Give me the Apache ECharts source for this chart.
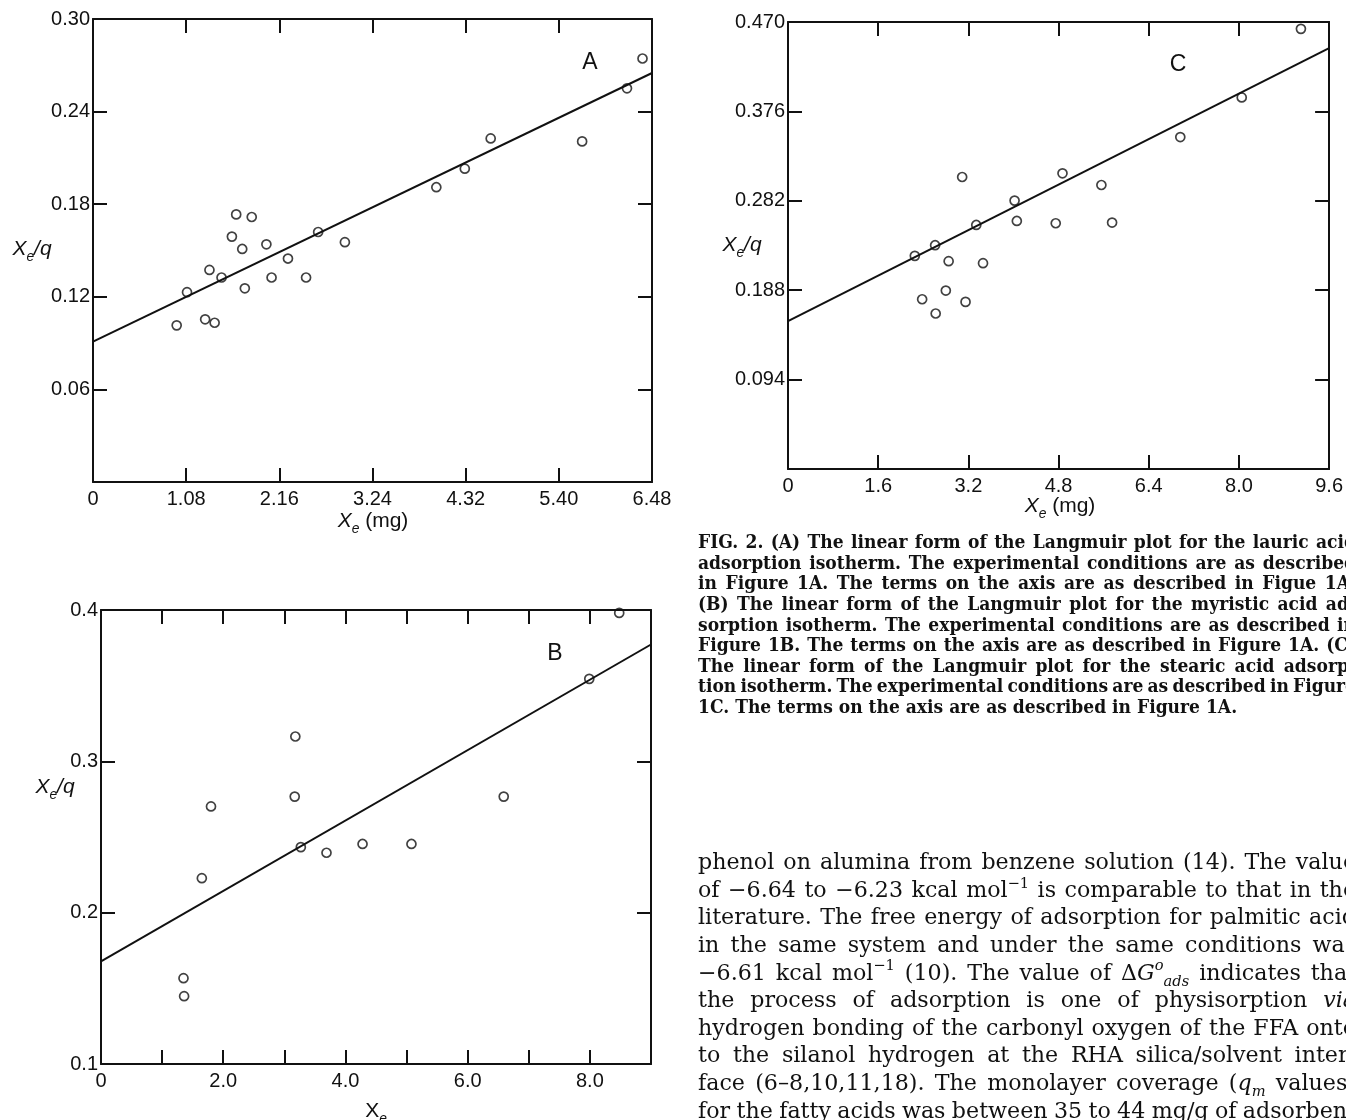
<!DOCTYPE html>
<html><head><meta charset="utf-8">
<script src="https://cdn.jsdelivr.net/npm/echarts/dist/echarts.min.js"></script>
<style>html,body{margin:0;padding:0;background:#fff}#c{width:1346px;height:1120px}</style>
</head><body><div id="c"></div>
<script>
// ---------------- DATA ----------------
const xTicksA=[0,1.08,2.16,3.24,4.32,5.40,6.48];
const xLabelsA=['0','1.08','2.16','3.24','4.32','5.40','6.48'];
const yTicksA=[0,0.06,0.12,0.18,0.24,0.30];
const yLabelsA=['','0.06','0.12','0.18','0.24','0.30'];
const pointsA=[[0.97,0.1015],[1.09,0.123],[1.30,0.1054],[1.41,0.1032],[1.35,0.1374],[1.49,0.1325],[1.61,0.159],[1.66,0.1734],[1.73,0.151],[1.76,0.1255],[1.84,0.1717],[2.01,0.154],[2.07,0.1325],[2.26,0.1448],[2.47,0.1325],[2.61,0.162],[2.92,0.1554],[3.98,0.191],[4.31,0.203],[4.61,0.2226],[5.67,0.2207],[6.19,0.2551],[6.37,0.2744]];
const fitA=[[0,0.091],[6.48,0.265]];

const xTicksB=[0,1,2,3,4,5,6,7,8,9];
const xLabelsB=['0','','2.0','','4.0','','6.0','','8.0',''];
const yTicksB=[0.1,0.2,0.3,0.4];
const yLabelsB=['0.1','0.2','0.3','0.4'];
const pointsB=[[1.35,0.1567],[1.36,0.1448],[1.65,0.2228],[1.80,0.2702],[3.18,0.3164],[3.17,0.2767],[3.27,0.2433],[3.69,0.2396],[4.28,0.2454],[5.08,0.2454],[6.59,0.2767],[7.99,0.3545],[8.48,0.3981]];
const fitB=[[0,0.1678],[9.0,0.3772]];

const xTicksC=[0,1.6,3.2,4.8,6.4,8.0,9.6];
const xLabelsC=['0','1.6','3.2','4.8','6.4','8.0','9.6'];
const yTicksC=[0,0.094,0.188,0.282,0.376,0.470];
const yLabelsC=['','0.094','0.188','0.282','0.376','0.470'];
const pointsC=[[2.25,0.2241],[2.38,0.1785],[2.61,0.2353],[2.62,0.1635],[2.85,0.2185],[2.80,0.1876],[3.09,0.3070],[3.15,0.1757],[3.34,0.2566],[3.46,0.2164],[4.02,0.2822],[4.06,0.2608],[4.75,0.2584],[4.87,0.3109],[5.56,0.2986],[5.75,0.2591],[6.96,0.3490],[8.05,0.3907],[9.10,0.4628]];
const fitC=[[0,0.1554],[9.6,0.4425]];

const panelNames=['A','B','C'];
const xTitles=['*X_e* (mg)','X_*e*','*X_e* (mg)'];
const yTitles=['*X_e~/q*','*X_e~/q*','*X_e~/q*'];

const CAPTION=[
 'FIG. 2. (A) The linear form of the Langmuir plot for the lauric acid',
 'adsorption isotherm. The experimental conditions are as described',
 'in Figure 1A. The terms on the axis are as described in Figue 1A.',
 '(B) The linear form of the Langmuir plot for the myristic acid ad-',
 'sorption isotherm. The experimental conditions are as described in',
 'Figure 1B. The terms on the axis are as described in Figure 1A. (C)',
 'The linear form of the Langmuir plot for the stearic acid adsorp-',
 'tion isotherm. The experimental conditions are as described in Figure',
 '1C. The terms on the axis are as described in Figure 1A.'
];
const BODY=[
 'phenol on alumina from benzene solution (14). The value',
 'of \u22126.64 to \u22126.23 kcal mol^\u22121 is comparable to that in the',
 'literature. The free energy of adsorption for palmitic acid',
 'in the same system and under the same conditions was',
 '\u22126.61 kcal mol^\u22121 (10). The value of \u0394*G^o_ads* indicates that',
 'the process of adsorption is one of physisorption *via*',
 'hydrogen bonding of the carbonyl oxygen of the FFA onto',
 'to the silanol hydrogen at the RHA silica/solvent inter-',
 'face (6\u20138,10,11,18). The monolayer coverage (*q_m* values)',
 'for the fatty acids was between 35 to 44 mg/g of adsorbent'
];

// ---------------- LAYOUT ----------------
const INK='#111';
const SANS='"Liberation Sans", Arial, sans-serif';
const SERIF='"DejaVu Serif", serif';
const grids=[
  {left:93, top:19, width:559, height:463},   // A
  {left:101,top:610,width:550, height:454},   // B
  {left:788,top:22, width:544, height:447}    // C
];
const axSets=[[xTicksA,xLabelsA,yTicksA,yLabelsA],[xTicksB,xLabelsB,yTicksB,yLabelsB],[xTicksC,xLabelsC,yTicksC,yLabelsC]];
const seriesData=[[pointsA,fitA],[pointsB,fitB],[pointsC,fitC]];

function lab(ticks,labels,v){const i=ticks.findIndex(t=>Math.abs(t-v)<1e-6);return i>=0?labels[i]:'';}
function mkAxis(grid,ticks,labels,pos,show,margin){
  return {type:'value',gridIndex:grid,position:pos,min:ticks[0],max:ticks[ticks.length-1],interval:ticks[1]-ticks[0],
    axisLine:{show:true,onZero:false,lineStyle:{color:INK,width:2}},
    axisTick:{show:true,inside:true,length:14,lineStyle:{color:INK,width:2}},
    axisLabel:{show:show,margin:margin,color:INK,fontFamily:SANS,fontSize:20,showMinLabel:true,showMaxLabel:true,
      formatter:v=>lab(ticks,labels,v)},
    splitLine:{show:false}};
}
const xAxis=[],yAxis=[],series=[];
axSets.forEach((s,k)=>{
  xAxis.push(mkAxis(k,s[0],s[1],'bottom',true,7));
  xAxis.push(mkAxis(k,s[0],s[1],'top',false,0));
  yAxis.push(mkAxis(k,s[2],s[3],'left',true,3));
  yAxis.push(mkAxis(k,s[2],s[3],'right',false,0));
  series.push({type:'line',xAxisIndex:2*k,yAxisIndex:2*k,data:seriesData[k][1],symbol:'none',silent:true,
    lineStyle:{color:INK,width:2},z:2});
  series.push({type:'scatter',xAxisIndex:2*k,yAxisIndex:2*k,data:seriesData[k][0],symbol:'circle',symbolSize:9,
    itemStyle:{color:'rgba(255,255,255,0)',borderColor:INK,borderWidth:1.7},z:3});
});

// ---------- text helpers ----------
const mc=document.createElement('canvas').getContext('2d');
function fontStr(f,size,it,bold){return (it?'italic ':'')+(bold?'bold ':'')+size.toFixed(2)+'px '+f;}
function parseWord(w){
  const segs=[];let it=false,mode=0,buf='';
  const flush=()=>{if(buf){segs.push({t:buf,it:it,mode:mode});buf='';}};
  for(const ch of w){
    if(ch==='*'){flush();it=!it;}
    else if(ch==='^'){flush();mode=1;}
    else if(ch==='_'){flush();mode=-1;}
    else if(ch==='~'){flush();mode=0;}
    else buf+=ch;
  }
  flush();return segs;
}
function segSize(s,size){return s.mode?size*0.66:size;}
function measureWord(segs,f,size,bold,hs){let w=0;for(const s of segs){mc.font=fontStr(f,segSize(s,size),s.it,bold);w+=mc.measureText(s.t).width;}return w*(hs||1);}
function spaceW(f,size,bold,hs){mc.font=fontStr(f,size,false,bold);return mc.measureText(' ').width*(hs||1);}
function emitWord(out,segs,x,base,f,size,bold,hs){
  hs=hs||1;
  for(const s of segs){
    const sz=segSize(s,size);
    const b=base+(s.mode===1?-0.42*size:s.mode===-1?0.28*size:0);
    out.push({type:'text',x:x,y:b-0.3*sz,scaleX:hs,silent:true,
      style:{text:s.t,font:fontStr(f,sz,s.it,bold),fill:INK,textAlign:'left',align:'left',textVerticalAlign:'middle',verticalAlign:'middle'}});
    mc.font=fontStr(f,sz,s.it,bold);x+=mc.measureText(s.t).width*hs;
  }
}
function run(out,str,x,base,f,size,bold,align){
  const words=str.split(' ').map(parseWord);
  const sp=spaceW(f,size,bold);
  const ws=words.map(w=>measureWord(w,f,size,bold));
  const total=ws.reduce((a,b)=>a+b,0)+sp*(words.length-1);
  let cx=align==='center'?x-total/2:x;
  words.forEach((w,i)=>{emitWord(out,w,cx,base,f,size,bold);cx+=ws[i]+sp;});
}
function typeset(out,lines,x0,base0,step,f,bold,W,justifyLast,spFactor,hs){
  const parsed=lines.map(l=>l.split(' ').map(parseWord));
  let size=Infinity;
  parsed.forEach((ws,i)=>{
    if(i===parsed.length-1&&!justifyLast)return;
    const S=ws.reduce((a,w)=>a+measureWord(w,f,100,bold,hs),0);
    const need=S+spFactor*spaceW(f,100,bold,hs)*(ws.length-1);
    size=Math.min(size,100*W/need);
  });
  parsed.forEach((ws,i)=>{
    const widths=ws.map(w=>measureWord(w,f,size,bold,hs));
    const S=widths.reduce((a,b)=>a+b,0);
    const just=(i<parsed.length-1)||justifyLast;
    const gap=just&&ws.length>1?(W-S)/(ws.length-1):spaceW(f,size,bold,hs);
    let x=x0;
    ws.forEach((w,j)=>{emitWord(out,w,x,base0+i*step,f,size,bold,hs);x+=widths[j]+gap;});
  });
}

const graphic=[];
// panel letters
[[590,61],[555,652],[1178,63]].forEach((p,k)=>run(graphic,panelNames[k],p[0],p[1]+0.36*23,SANS,23,false,'center'));
// axis titles
[[373,520],[376,1110],[1060,505]].forEach((p,k)=>run(graphic,xTitles[k],p[0],p[1]+0.36*21,SANS,21,false,'center'));
[[32,248],[55,786],[742,244]].forEach((p,k)=>run(graphic,yTitles[k],p[0],p[1]+0.36*21,SANS,21,false,'center'));
// caption and body text
typeset(graphic,CAPTION,698,549,20.6,SERIF,true,658,false,0.7,0.92);
typeset(graphic,BODY,698,870,27.6,SERIF,false,658,true,0.9,1);

const chart=echarts.init(document.getElementById('c'),null,{renderer:'canvas'});
chart.setOption({
  animation:false,
  backgroundColor:'#fff',
  grid:grids.map(g=>Object.assign({containLabel:false},g)),
  xAxis:xAxis,yAxis:yAxis,series:series,
  graphic:{elements:graphic}
});
</script></body></html>
